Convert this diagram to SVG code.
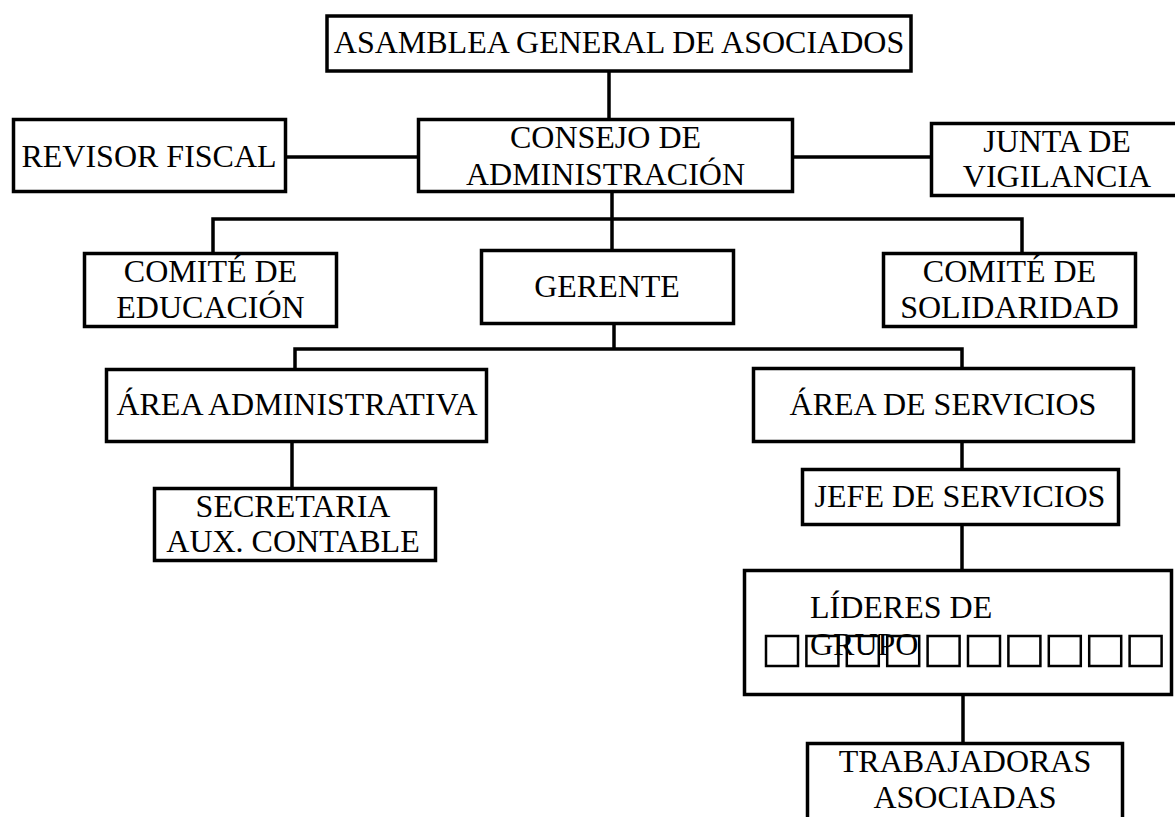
<svg xmlns="http://www.w3.org/2000/svg" width="1175" height="817" viewBox="0 0 1175 817">
<style>
.box{fill:#fff;stroke:#000;stroke-width:3.5}
.ln{fill:none;stroke:#000;stroke-width:3.5}
.t{font-family:"Liberation Serif","Times New Roman",serif;font-size:32px;fill:#000;text-anchor:middle}
.ts{text-anchor:start}
.sq{fill:none;stroke:#000;stroke-width:2.5}
</style>
<rect x="0" y="0" width="1175" height="817" fill="#fff"/>
<g id="connectors">
<path class="ln" d="M609 72V118"/>
<path class="ln" d="M287 157H418"/>
<path class="ln" d="M794 157H930"/>
<path class="ln" d="M612 193V249"/>
<path class="ln" d="M213 252V219H1022V252"/>
<path class="ln" d="M614 325V349"/>
<path class="ln" d="M295 369V349H962V368"/>
<path class="ln" d="M292 443V487"/>
<path class="ln" d="M962 443V468"/>
<path class="ln" d="M962 526V570"/>
<path class="ln" d="M963 696V743"/>
</g>
<g id="asamblea">
<rect class="box" x="327" y="16" width="584" height="55"/>
<text class="t" x="619" y="53">ASAMBLEA GENERAL DE ASOCIADOS</text>
</g>
<g id="revisor">
<rect class="box" x="13.5" y="119.5" width="272" height="72"/>
<text class="t" x="149" y="167">REVISOR FISCAL</text>
</g>
<g id="consejo">
<rect class="box" x="418.5" y="119.5" width="374" height="72"/>
<text class="t" x="605.5" y="148">CONSEJO DE</text>
<text class="t" x="605.5" y="185">ADMINISTRACIÓN</text>
</g>
<g id="junta">
<rect class="box" x="931.5" y="123.5" width="260" height="72"/>
<text class="t" x="1057" y="152">JUNTA DE</text>
<text class="t" x="1057" y="187">VIGILANCIA</text>
</g>
<g id="comite-educacion">
<rect class="box" x="84.5" y="253.5" width="252" height="73"/>
<text class="t" x="210.5" y="282">COMITÉ DE</text>
<text class="t" x="210.5" y="318">EDUCACIÓN</text>
</g>
<g id="gerente">
<rect class="box" x="481.5" y="250.5" width="252" height="73"/>
<text class="t" x="607" y="297">GERENTE</text>
</g>
<g id="comite-solidaridad">
<rect class="box" x="883.5" y="253.5" width="252" height="73"/>
<text class="t" x="1009.5" y="282">COMITÉ DE</text>
<text class="t" x="1009.5" y="318">SOLIDARIDAD</text>
</g>
<g id="area-administrativa">
<rect class="box" x="106.5" y="369.5" width="380" height="72"/>
<text class="t" x="297" y="415">ÁREA ADMINISTRATIVA</text>
</g>
<g id="area-servicios">
<rect class="box" x="753.5" y="368.5" width="380" height="73"/>
<text class="t" x="943" y="415">ÁREA DE SERVICIOS</text>
</g>
<g id="secretaria">
<rect class="box" x="154.5" y="488.5" width="281" height="72"/>
<text class="t" x="293" y="517">SECRETARIA</text>
<text class="t" x="293" y="552">AUX. CONTABLE</text>
</g>
<g id="jefe-servicios">
<rect class="box" x="802.5" y="469.5" width="316" height="55"/>
<text class="t" x="960" y="507">JEFE DE SERVICIOS</text>
</g>
<g id="lideres">
<rect class="box" x="744.5" y="570.5" width="427" height="124"/>
<rect class="sq" x="766" y="636" width="32" height="30"/>
<rect class="sq" x="806.4" y="636" width="32" height="30"/>
<rect class="sq" x="846.8" y="636" width="32" height="30"/>
<rect class="sq" x="887.2" y="636" width="32" height="30"/>
<rect class="sq" x="927.6" y="636" width="32" height="30"/>
<rect class="sq" x="968" y="636" width="32" height="30"/>
<rect class="sq" x="1008.4" y="636" width="32" height="30"/>
<rect class="sq" x="1048.8" y="636" width="32" height="30"/>
<rect class="sq" x="1089.2" y="636" width="32" height="30"/>
<rect class="sq" x="1129.6" y="636" width="32" height="30"/>
<text class="t ts" x="810" y="618">LÍDERES DE</text>
<text class="t ts" x="810" y="655">GRUPO</text>
</g>
<g id="trabajadoras">
<rect class="box" x="807.5" y="743.5" width="315" height="100"/>
<text class="t" x="965" y="772">TRABAJADORAS</text>
<text class="t" x="965" y="808">ASOCIADAS</text>
</g>
</svg>
